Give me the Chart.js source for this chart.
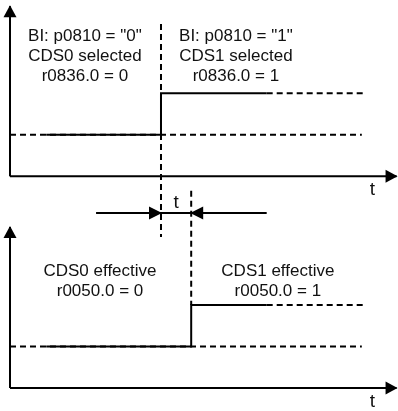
<!DOCTYPE html>
<html><head><meta charset="utf-8">
<script src="https://cdn.jsdelivr.net/npm/chart.js@4.4.1/dist/chart.umd.min.js"></script>
<style>html,body{margin:0;padding:0;background:#fff;}#wrap{width:398px;height:411px;}</style>
</head><body><div id="wrap"><canvas id="c" width="398" height="411"></canvas></div>
<script>
// ---- data (time units on x, signal level units on y) ----
const TOP_BASE = 5.1;          // y offset of the upper diagram's time axis
const BOT_BASE = 0;            // y offset of the lower diagram's time axis
const LOW = 1, HIGH = 2;       // signal levels relative to each axis
const switchTime = 5;          // BI p0810 changes (CDS selected)
const effectTime = 6;          // CDS becomes effective (after delay t)
const solidStart = 1.2;
const solidEnd = 8.5;
const highDashEnd = 11.75;
const lowDashEnd = 11.65;
const axisEndX = 12.8;
const topAxisHeight = 4.1;
const botAxisHeight = 3.88;
const delayY = 4.217;
const delayLeftStart = 2.85;
const delayRightStart = 8.5;
const vLine1 = [3.64, 8.77];
const vLine2 = [HIGH, 4.75];

const labelsTop = [
  {x: 2.48, lines: ['BI: p0810 = "0"', 'CDS0 selected', 'r0836.0 = 0'], y: 8.48},
  {x: 7.48, lines: ['BI: p0810 = "1"', 'CDS1 selected', 'r0836.0 = 1'], y: 8.48}
];
const labelsBot = [
  {x: 2.98, lines: ['CDS0 effective', 'r0050.0 = 0'], y: 2.82},
  {x: 8.87, lines: ['CDS1 effective', 'r0050.0 = 1'], y: 2.82}
];
const tLabels = [
  {x: 12.0, y: 4.78},
  {x: 5.5, y: 4.47},
  {x: 12.0, y: -0.32}
];
const lineStep = 0.482; // text line spacing in y units

// ---- build datasets ----
const K = '#000';
function ds(points, opts) {
  return Object.assign({data: points.map(p => ({x: p[0], y: p[1]})), borderColor: K,
    borderWidth: 2, pointRadius: 0, fill: false, tension: 0, showLine: true}, opts || {});
}
const dash = [6, 4];
const datasets = [
  // upper diagram axes
  ds([[0, TOP_BASE], [0, TOP_BASE + topAxisHeight]], {arrow: true}),
  ds([[0, TOP_BASE], [axisEndX, TOP_BASE]], {arrow: true}),
  // lower diagram axes
  ds([[0, BOT_BASE], [0, BOT_BASE + botAxisHeight]], {arrow: true}),
  ds([[0, BOT_BASE], [axisEndX, BOT_BASE]], {arrow: true}),
  // upper signal
  ds([[0, TOP_BASE + LOW], [lowDashEnd, TOP_BASE + LOW]], {borderDash: dash}),
  ds([[solidEnd, TOP_BASE + HIGH], [highDashEnd, TOP_BASE + HIGH]], {borderDash: dash}),
  ds([[solidStart, TOP_BASE + LOW], [switchTime, TOP_BASE + LOW], [switchTime, TOP_BASE + HIGH], [solidEnd, TOP_BASE + HIGH]]),
  // lower signal
  ds([[0, BOT_BASE + LOW], [lowDashEnd, BOT_BASE + LOW]], {borderDash: dash}),
  ds([[solidEnd, BOT_BASE + HIGH], [highDashEnd, BOT_BASE + HIGH]], {borderDash: dash}),
  ds([[solidStart, BOT_BASE + LOW], [effectTime, BOT_BASE + LOW], [effectTime, BOT_BASE + HIGH], [solidEnd, BOT_BASE + HIGH]]),
  // vertical markers
  ds([[switchTime, vLine1[1]], [switchTime, vLine1[0]]], {borderDash: dash}),
  ds([[effectTime, vLine2[1]], [effectTime, vLine2[0]]], {borderDash: dash}),
  // delay arrows
  ds([[delayLeftStart, delayY], [switchTime, delayY]], {arrow: true, arrowLen: 13}),
  ds([[delayRightStart, delayY], [effectTime, delayY]], {arrow: true, arrowLen: 13}),
  ds([[switchTime, delayY], [effectTime, delayY]])
];

const decor = {
  id: 'decor',
  afterDatasetsDraw(chart) {
    const ctx = chart.ctx, xs = chart.scales.x, ys = chart.scales.y;
    ctx.save();
    ctx.fillStyle = K;
    chart.data.datasets.forEach(d => {
      if (!d.arrow) return;
      const n = d.data.length;
      const a = d.data[n - 2], b = d.data[n - 1];
      const ax = xs.getPixelForValue(a.x), ay = ys.getPixelForValue(a.y);
      const bx = xs.getPixelForValue(b.x), by = ys.getPixelForValue(b.y);
      const ang = Math.atan2(by - ay, bx - ax);
      const L = d.arrowLen || 12, W = 6.5;
      const tx = bx + Math.cos(ang) * 1, ty = by + Math.sin(ang) * 1;
      const cx = tx - Math.cos(ang) * L, cy = ty - Math.sin(ang) * L;
      ctx.beginPath();
      ctx.moveTo(tx, ty);
      ctx.lineTo(cx - Math.sin(ang) * W, cy + Math.cos(ang) * W);
      ctx.lineTo(cx + Math.sin(ang) * W, cy - Math.cos(ang) * W);
      ctx.closePath();
      ctx.fill();
    });
    ctx.font = '17px Arial, "Liberation Sans", sans-serif';
    ctx.textAlign = 'center';
    ctx.textBaseline = 'middle';
    ctx.fillStyle = '#111';
    [...labelsTop, ...labelsBot].forEach(l => {
      l.lines.forEach((s, i) => {
        ctx.fillText(s, xs.getPixelForValue(l.x), ys.getPixelForValue(l.y - i * lineStep));
      });
    });
    ctx.font = '19px Arial, "Liberation Sans", sans-serif';
    tLabels.forEach(l => ctx.fillText('t', xs.getPixelForValue(l.x), ys.getPixelForValue(l.y)));
    ctx.restore();
  }
};

new Chart(document.getElementById('c'), {
  type: 'scatter',
  data: {datasets},
  options: {
    responsive: false,
    devicePixelRatio: 1,
    animation: false,
    layout: {padding: 0},
    plugins: {legend: {display: false}, tooltip: {enabled: false}},
    scales: {
      x: {type: 'linear', display: false, min: -0.3311, max: 12.848},
      y: {type: 'linear', display: false, min: -0.554, max: 9.349}
    },
    elements: {line: {borderCapStyle: 'butt'}}
  },
  plugins: [decor]
});
</script></body></html>
